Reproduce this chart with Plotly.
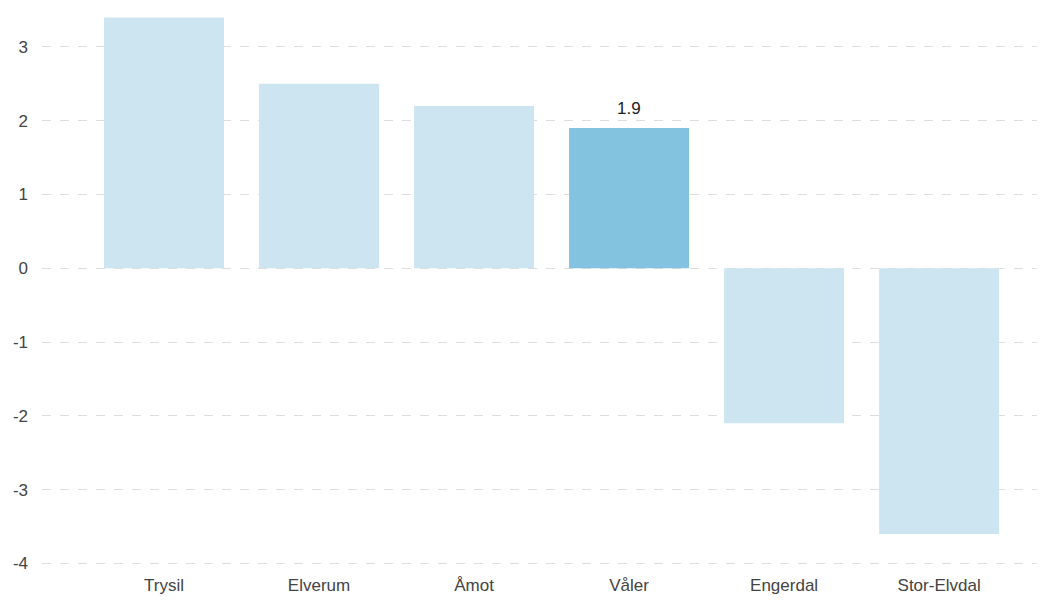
import plotly.graph_objects as go

categories = ["Trysil", "Elverum", "Åmot", "Våler", "Engerdal", "Stor-Elvdal"]
values = [3.4, 2.5, 2.2, 1.9, -2.1, -3.6]
highlight = "Våler"
tick_vals = [-4, -3, -2, -1, 0, 1, 2, 3]
tick_text = [str(v) for v in tick_vals]

light = "rgb(204,229,241)"
dark = "rgb(131,195,223)"
colors = [dark if c == highlight else light for c in categories]

fig = go.Figure(go.Bar(
    x=categories, y=values,
    marker=dict(color=colors, line=dict(width=0)),
    hoverinfo="x+y",
))

for c, v in zip(categories, values):
    if c == highlight:
        fig.add_annotation(
            x=c, y=v, text=f"{v:.1f}", showarrow=False,
            yanchor="bottom", yshift=8,
            font=dict(size=17, color="#222", family="Liberation Sans, Arial, sans-serif"),
        )

fig.update_layout(
    width=1037, height=601,
    margin=dict(l=34, r=0, t=2, b=44, autoexpand=False),
    paper_bgcolor="white", plot_bgcolor="white",
    bargap=0.226,
    showlegend=False,
    font=dict(family="Liberation Sans, Arial, sans-serif", size=17, color="#444"),
)
fig.update_xaxes(
    range=[-0.787, 5.683], showgrid=False, zeroline=False, showline=False,
    ticks="", tickfont=dict(size=17, color="#444"), automargin=False,
    ticklabelstandoff=8,
)
fig.update_yaxes(
    range=[-4.02, 3.5], tickvals=tick_vals, ticktext=tick_text, showgrid=True,
    gridcolor="#dedede", griddash="dash", gridwidth=1,
    zeroline=False, showline=False, ticks="", ticklabelstandoff=13,
    tickfont=dict(size=17, color="#444"), automargin=False,
)

fig.write_html("out.html")
